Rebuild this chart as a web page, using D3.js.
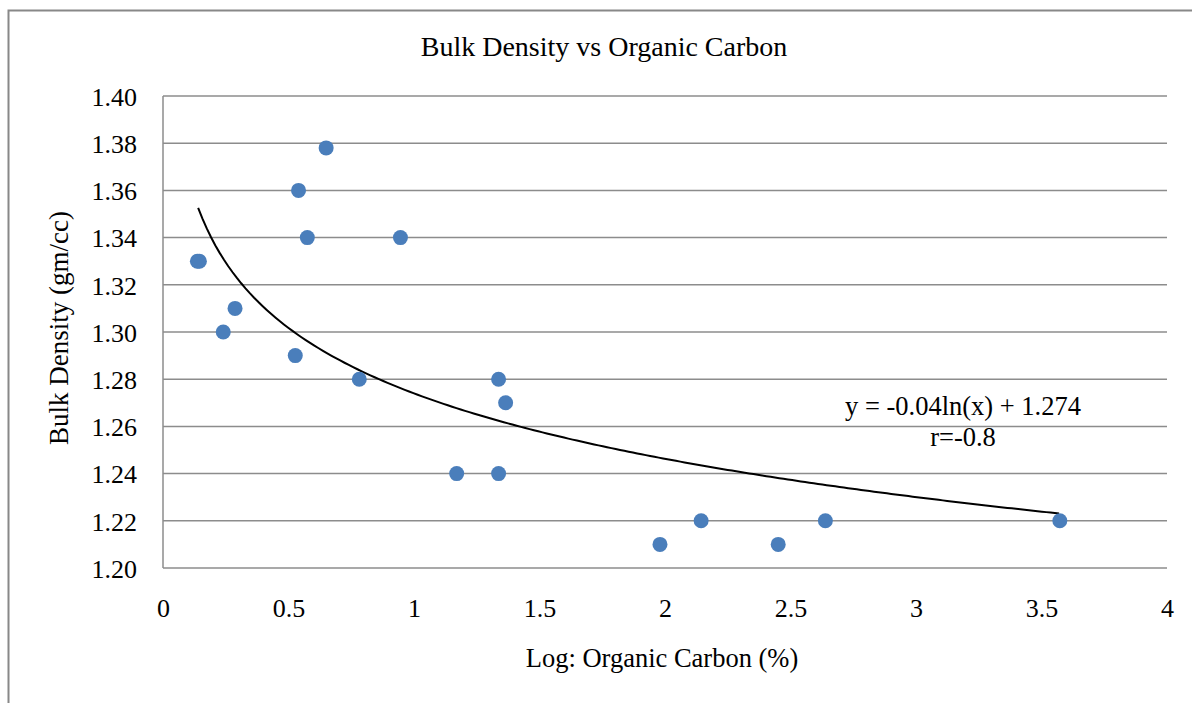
<!DOCTYPE html>
<html>
<head>
<meta charset="utf-8">
<script src="https://cdn.jsdelivr.net/npm/d3@7"></script>
<style>
  body { margin: 0; background: #fff; }
  text { font-family: "Liberation Serif", "Times New Roman", serif; fill: #000; }
</style>
</head>
<body>
<div id="chart"></div>
<script>
// data
var organicCarbon = [0.65, 0.54, 0.575, 0.946, 0.137, 0.145, 0.287, 0.24, 0.527, 0.782, 1.337, 1.365, 1.17, 1.337, 1.98, 2.144, 2.451, 2.639, 3.573];
var bulkDensity   = [1.378, 1.36, 1.34, 1.34, 1.33, 1.33, 1.31, 1.30, 1.29, 1.28, 1.28, 1.27, 1.24, 1.24, 1.21, 1.22, 1.21, 1.22, 1.22];
var xTicks = [0, 0.5, 1, 1.5, 2, 2.5, 3, 3.5, 4];
var yTicks = [1.20, 1.22, 1.24, 1.26, 1.28, 1.30, 1.32, 1.34, 1.36, 1.38, 1.40];
var trendA = -0.04, trendB = 1.274;   // y = a ln(x) + b
var trendRange = [0.14, 3.57];

var width = 1192, height = 703;
var margin = {top: 96, right: 25, bottom: 135, left: 163};

var svg = d3.select("#chart").append("svg")
    .attr("width", width)
    .attr("height", height);

// outer chart border (only left/top visible)
svg.append("rect")
    .attr("x", 8.5).attr("y", 10.5)
    .attr("width", width + 20).attr("height", height + 20)
    .attr("fill", "none")
    .attr("stroke", "#888")
    .attr("stroke-width", 2);

var x = d3.scaleLinear().domain([0, 4]).range([margin.left, width - margin.right]);
var y = d3.scaleLinear().domain([1.20, 1.40]).range([height - margin.bottom, margin.top]);

// horizontal gridlines
svg.append("g")
    .selectAll("line")
    .data(yTicks)
    .enter()
    .append("line")
    .attr("x1", x(0))
    .attr("x2", x(4))
    .attr("y1", function (d) { return y(d); })
    .attr("y2", function (d) { return y(d); })
    .attr("stroke", "#8c8c8c")
    .attr("stroke-width", 1.5);

// left axis line
svg.append("line")
    .attr("x1", x(0)).attr("x2", x(0))
    .attr("y1", y(1.40)).attr("y2", y(1.20))
    .attr("stroke", "#8c8c8c")
    .attr("stroke-width", 1.5);

// y tick labels
var yAxis = d3.axisLeft(y)
    .tickValues(yTicks)
    .tickFormat(d3.format(".2f"))
    .tickSize(0)
    .tickPadding(26);

var gy = svg.append("g")
    .attr("transform", "translate(" + x(0) + ",0)")
    .call(yAxis);
gy.select(".domain").remove();
gy.selectAll("text")
    .attr("font-size", 26)
    .attr("dy", "0.36em");

// x tick labels
var xAxis = d3.axisBottom(x)
    .tickValues(xTicks)
    .tickFormat(function (d) { return String(d); })
    .tickSize(0)
    .tickPadding(31);

var gx = svg.append("g")
    .attr("transform", "translate(0," + y(1.20) + ")")
    .call(xAxis);
gx.select(".domain").remove();
gx.selectAll("text")
    .attr("font-size", 26);

// trendline
var trendX = d3.range(0, 201).map(function (i) {
    return trendRange[0] + (trendRange[1] - trendRange[0]) * i / 200;
});
var line = d3.line()
    .x(function (d) { return x(d); })
    .y(function (d) { return y(trendA * Math.log(d) + trendB); });

svg.append("path")
    .datum(trendX)
    .attr("d", line)
    .attr("fill", "none")
    .attr("stroke", "#000")
    .attr("stroke-width", 2);

// points
svg.append("g")
    .selectAll("circle")
    .data(organicCarbon)
    .enter()
    .append("circle")
    .attr("cx", function (d) { return x(d); })
    .attr("cy", function (d, i) { return y(bulkDensity[i]); })
    .attr("r", 7.5)
    .attr("fill", "#4a7ebb");

// title
svg.append("text")
    .attr("x", 604)
    .attr("y", 56)
    .attr("text-anchor", "middle")
    .attr("font-size", 28)
    .text("Bulk Density vs Organic Carbon");

// axis titles
svg.append("text")
    .attr("x", 662)
    .attr("y", 667)
    .attr("text-anchor", "middle")
    .attr("font-size", 26.5)
    .text("Log: Organic Carbon (%)");

svg.append("text")
    .attr("transform", "translate(68," + 328 + ") rotate(-90)")
    .attr("text-anchor", "middle")
    .attr("font-size", 27)
    .text("Bulk Density (gm/cc)");

// equation label
svg.append("text")
    .attr("x", 963)
    .attr("y", 415)
    .attr("text-anchor", "middle")
    .attr("font-size", 26.5)
    .text("y = -0.04ln(x) + 1.274");

svg.append("text")
    .attr("x", 963)
    .attr("y", 446)
    .attr("text-anchor", "middle")
    .attr("font-size", 26.5)
    .text("r=-0.8");
</script>
</body>
</html>
